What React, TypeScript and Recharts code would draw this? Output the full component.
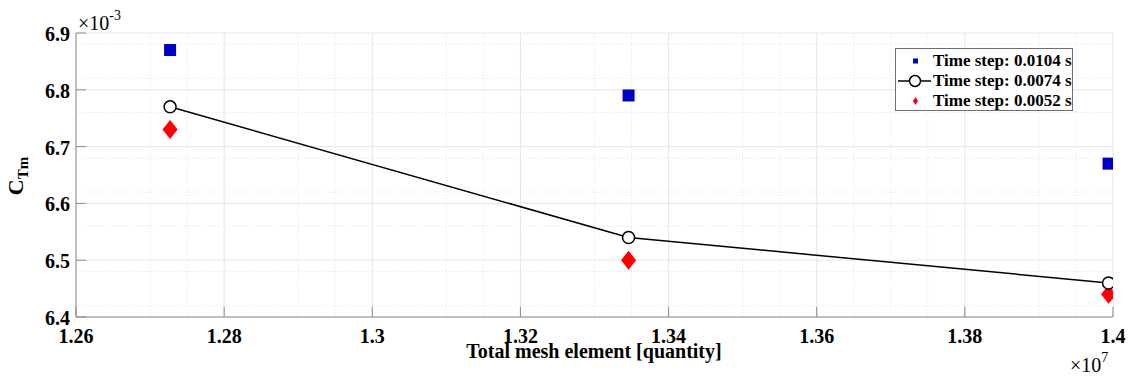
import { ComposedChart, Line, Scatter, XAxis, YAxis, CartesianGrid, Legend } from 'recharts';

// x values in units of 1e7 elements, C_Tm in units of 1e-3
const meshElements = [1.2727, 1.3346, 1.3994];
const ctmStep0104 = [6.87, 6.79, 6.67];
const ctmStep0074 = [6.77, 6.54, 6.46];
const ctmStep0052 = [6.73, 6.5, 6.44];

const seriesNames = ['Time step: 0.0104 s', 'Time step: 0.0074 s', 'Time step: 0.0052 s'];

const xTicks = [1.26, 1.28, 1.3, 1.32, 1.34, 1.36, 1.38, 1.4];
const yTicks = [6.4, 6.5, 6.6, 6.7, 6.8, 6.9];

const FONT = '"Liberation Serif", "Times New Roman", serif';
const BLUE = '#0000c8';
const RED = '#ff0000';

const data = meshElements.map((mesh, i) => ({
  mesh,
  coarse: ctmStep0104[i],
  medium: ctmStep0074[i],
  fine: ctmStep0052[i],
}));

// minor grid: 4 divisions in x, 5 in y
const subdivide = (ticks: number[], n: number) => {
  const out: number[] = [];
  for (let i = 0; i < ticks.length - 1; i++) {
    const step = (ticks[i + 1] - ticks[i]) / n;
    for (let k = 1; k < n; k++) out.push(ticks[i] + k * step);
  }
  return out;
};
const xMinor = subdivide(xTicks, 4);
const yMinor = subdivide(yTicks, 5);

const fmt = (v: number) => String(Number(v.toFixed(2)));

const XTick = (props: any) => {
  const { x, y, payload } = props;
  return (
    <text x={x} y={y + 14} textAnchor="middle" fontFamily={FONT} fontWeight="bold" fontSize={20} fill="#000">
      {fmt(payload.value)}
    </text>
  );
};

const YTick = (props: any) => {
  const { x, y, payload } = props;
  return (
    <text x={x} y={y + 8} textAnchor="end" fontFamily={FONT} fontWeight="bold" fontSize={20} fill="#000">
      {fmt(payload.value)}
    </text>
  );
};

const Square = (props: any) => {
  const { cx, cy } = props;
  return <rect x={cx - 6} y={cy - 6} width={12} height={12} fill={BLUE} />;
};

const Diamond = (props: any) => {
  const { cx, cy } = props;
  return <path d={`M${cx},${cy - 9.5}L${cx + 7.5},${cy}L${cx},${cy + 9.5}L${cx - 7.5},${cy}Z`} fill={RED} />;
};

const LegendBox = () => (
  <div
    style={{
      border: '1px solid #6e6e6e',
      background: '#fff',
      width: 178,
      height: 63,
      boxSizing: 'border-box',
      paddingTop: 2,
      fontFamily: FONT,
      fontWeight: 'bold',
      fontSize: 17,
      color: '#000',
    }}
  >
    {seriesNames.map((name, i) => (
      <div key={name} style={{ display: 'flex', alignItems: 'center', height: 20, lineHeight: '20px', whiteSpace: 'nowrap' }}>
        <svg width={37} height={20} style={{ flex: 'none' }}>
          {i === 0 && <rect x={17} y={7.5} width={5} height={5} fill={BLUE} />}
          {i === 1 && (
            <g>
              <line x1={2} y1={10} x2={35} y2={10} stroke="#000" strokeWidth={1.5} />
              <circle cx={19} cy={10} r={5.5} fill="#fff" stroke="#000" strokeWidth={1.5} />
            </g>
          )}
          {i === 2 && <path d="M19.5,6L22,10L19.5,14L17,10Z" fill={RED} />}
        </svg>
        <span>{name}</span>
      </div>
    ))}
  </div>
);

export default function App() {
  return (
    <div style={{ position: 'absolute', left: 0, top: 0, background: '#fff' }}>
      <ComposedChart width={1129} height={380} data={data} margin={{ top: 33, right: 16, bottom: 0, left: 0 }}>
        <CartesianGrid
          verticalValues={xMinor}
          horizontalValues={yMinor}
          stroke="#e4e4e4"
          strokeDasharray="1 2"
        />
        <CartesianGrid verticalValues={xTicks} horizontalValues={yTicks} stroke="#e6e6e6" />
        <XAxis
          dataKey="mesh"
          type="number"
          domain={[1.26, 1.4]}
          ticks={xTicks}
          height={63}
          stroke="#8a8a8a"
          tickSize={-10}
          tickMargin={22}
          tick={<XTick />}
          allowDataOverflow
        />
        <YAxis
          type="number"
          domain={[6.4, 6.9]}
          ticks={yTicks}
          width={76}
          stroke="#8a8a8a"
          tickSize={-10}
          tickMargin={16}
          tick={<YTick />}
          allowDataOverflow
        />
        <Scatter name={seriesNames[0]} dataKey="coarse" shape={<Square />} isAnimationActive={false} />
        <Line
          name={seriesNames[1]}
          dataKey="medium"
          stroke="#000"
          strokeWidth={1.5}
          dot={{ r: 6, fill: '#fff', stroke: '#000', strokeWidth: 1.5 }}
          activeDot={false}
          isAnimationActive={false}
        />
        <Scatter name={seriesNames[2]} dataKey="fine" shape={<Diamond />} isAnimationActive={false} />
        <Legend
          layout="horizontal"
          verticalAlign="middle"
          align="center"
          content={<LegendBox />}
          wrapperStyle={{ position: 'absolute', top: 48, left: 895, width: 178, height: 63 }}
        />
        <text x={594} y={358} textAnchor="middle" fontFamily={FONT} fontWeight="bold" fontSize={20} fill="#000">
          Total mesh element [quantity]
        </text>
        <text transform="translate(23,176) rotate(-90)" textAnchor="middle" fontFamily={FONT} fontWeight="bold" fontSize={22} fill="#000">
          C<tspan fontSize={15} dy={5}>Tm</tspan>
        </text>
        <text x={78} y={30} fontFamily={FONT} fontSize={20} fill="#000">
          ×10<tspan fontSize={14} dy={-10}>-3</tspan>
        </text>
        <text x={1070} y={372} fontFamily={FONT} fontSize={20} fill="#000">
          ×10<tspan fontSize={14} dy={-10}>7</tspan>
        </text>
      </ComposedChart>
    </div>
  );
}
